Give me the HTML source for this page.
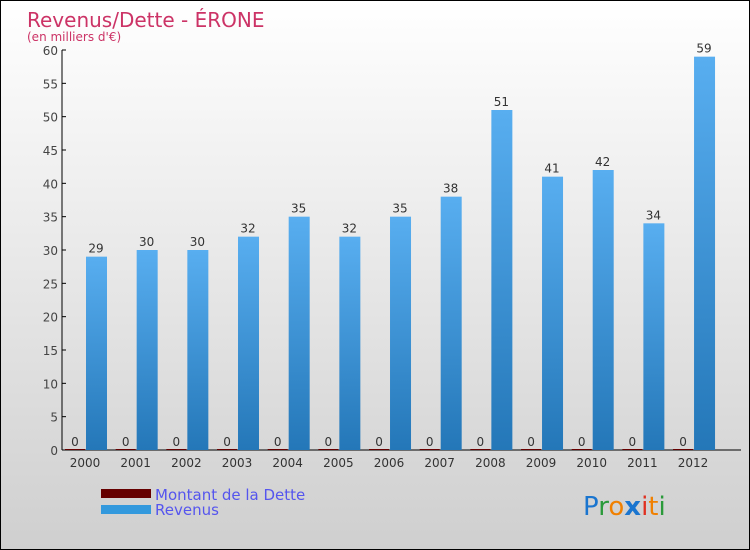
<!DOCTYPE html>
<html><head><meta charset="utf-8"><style>
body{margin:0}
#c{width:750px;height:550px;box-sizing:border-box;border:1px solid #000;background:linear-gradient(#ffffff,#cfcfcf);position:relative;font-family:"DejaVu Sans","Liberation Sans",sans-serif}
</style></head><body>
<div id="c">
<svg id="s" width="748" height="548" style="position:absolute;left:0;top:0">
<defs><linearGradient id="bg" x1="0" x2="0" y1="0" y2="1"><stop offset="0" stop-color="#58aef0"/><stop offset="1" stop-color="#2477b8"/></linearGradient></defs>
<text x="26" y="26" font-size="20" fill="#cc3366">Revenus/Dette - ÉRONE</text>
<text x="26" y="40" font-size="12" fill="#cc3366">(en milliers d'€)</text>
<g id="g"></g>
<rect x="100" y="488" width="50" height="9" fill="#660000"/>
<rect x="100" y="504" width="50" height="9" fill="#3399dd"/>
<text x="154" y="499" font-size="15" fill="#5555ee">Montant de la Dette</text>
<text x="154" y="514" font-size="15" fill="#5555ee">Revenus</text>
<text x="582" y="514" font-size="26" font-family="DejaVu Sans"><tspan fill="#1a75cf">P</tspan><tspan fill="#2a9a3a">r</tspan><tspan fill="#f08000">o</tspan><tspan fill="#1a75cf" font-weight="bold">x</tspan><tspan fill="#e03020">i</tspan><tspan fill="#f08000">t</tspan><tspan fill="#2a9a3a">i</tspan></text>
</svg></div>
<script>
const years=["2000","2001","2002","2003","2004","2005","2006","2007","2008","2009","2010","2011","2012"];
const revenus=[29,30,30,32,35,32,35,38,51,41,42,34,59];
const dette=[0,0,0,0,0,0,0,0,0,0,0,0,0];
const yTicks=[0,5,10,15,20,25,30,35,40,45,50,55,60];
const NS="http://www.w3.org/2000/svg";
const g=document.getElementById('g');
const y=v=>449-v*400/60;
const x=i=>84+i*50.67;
function mk(t,a,p){const e=document.createElementNS(NS,t);for(const k in a)e.setAttribute(k,a[k]);(p||g).appendChild(e);return e;}
let ax=mk('line',{x1:61,x2:61,y1:49,y2:449,stroke:'#000'});


let bx=mk('line',{x1:61,x2:740,y1:449,y2:449,stroke:'#000'});


yTicks.forEach(v=>{
 let l=mk('line',{x1:61,x2:65,y1:y(v),y2:y(v),stroke:'#000'});
 
 
 let t=mk('text',{x:57,y:y(v)+5,'font-size':12,fill:'#444','text-anchor':'end'});
 t.textContent=v;
 
 
});
years.forEach((yr,i)=>{
 let cx=x(i);
 let t=mk('text',{x:cx,y:466,'font-size':12,fill:'#333','text-anchor':'middle'});
 t.textContent=yr;
 
 
 let d=mk('rect',{x:cx-20,y:y(dette[i])-1,width:20,height:Math.max(1,449-y(dette[i])),fill:'#660000'});
 
 
 let dl=mk('text',{x:cx-10,y:y(dette[i])-4,'font-size':12,fill:'#333','text-anchor':'middle'});
 dl.textContent=dette[i];
 
 
 let r=mk('rect',{x:cx+1,y:y(revenus[i]),width:21,height:449-y(revenus[i]),fill:'url(#bg)'});
 
 
 let rl=mk('text',{x:cx+11,y:y(revenus[i])-4,'font-size':12,fill:'#333','text-anchor':'middle'});
 rl.textContent=revenus[i];
 
 
});
</script>
</body></html>
